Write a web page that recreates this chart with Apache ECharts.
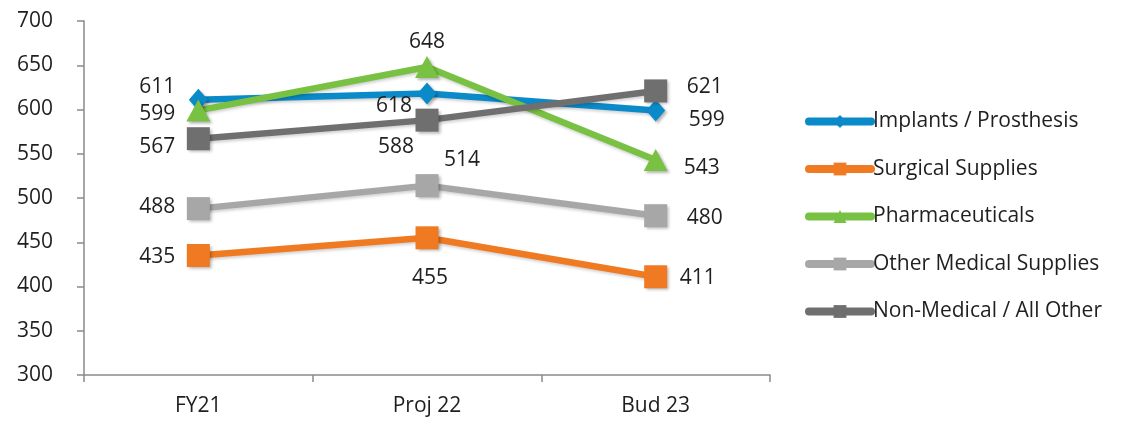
<!DOCTYPE html>
<html>
<head>
<meta charset="utf-8">
<script src="https://cdn.jsdelivr.net/npm/echarts@6/dist/echarts.min.js"></script>
<style>
  html, body { margin: 0; padding: 0; background: #fff; }
  #chart { width: 1139px; height: 422px; }
</style>
</head>
<body>
<div id="chart"></div>
<script>
// Supply spend by category, FY21 actual vs projected and budget
const categories = ['FY21', 'Proj 22', 'Bud 23'];
const seriesNames = [
  'Implants / Prosthesis',
  'Surgical Supplies',
  'Pharmaceuticals',
  'Other Medical Supplies',
  'Non-Medical / All Other'
];
const implants = [611, 618, 599];
const surgical = [435, 455, 411];
const pharma = [599, 648, 543];
const otherMedical = [488, 514, 480];
const nonMedical = [567, 588, 621];
const yTicks = { min: 300, max: 700, interval: 50 };

// Presentation: colours, markers and per-point label offsets
const colors = ['#0A8AC8', '#F07A21', '#79C143', '#A7A7A7', '#6F6F6F'];
const symbols = ['diamond', 'rect', 'triangle', 'rect', 'rect'];
const symbolSizes = [[19, 22], 23, [24, 22], 23, 23];
const labelOffsets = [
  [[-41, -13], [-33, 12], [51, 10]],
  [[-41, 1], [3, 40], [42, 1]],
  [[-41, 4], [0, -25], [46, 8]],
  [[-41, -2], [35, -26], [49, 2]],
  [[-41, 8], [-31, 27], [49, -4]]
];

const values = [implants, surgical, pharma, otherMedical, nonMedical];
const FONT = '"Open Sans", sans-serif';
const FS = 21;

const series = values.map((vals, i) => ({
  name: seriesNames[i],
  type: 'line',
  symbol: symbols[i],
  symbolSize: symbolSizes[i],
  lineStyle: {
    width: 6.5,
    color: colors[i],
    shadowColor: 'rgba(0,0,0,0.18)',
    shadowBlur: 3,
    shadowOffsetX: 1,
    shadowOffsetY: 2
  },
  itemStyle: {
    color: colors[i],
    shadowColor: 'rgba(0,0,0,0.3)',
    shadowBlur: 3,
    shadowOffsetX: 2,
    shadowOffsetY: 2
  },
  emphasis: { disabled: true },
  data: vals.map((v, j) => ({
    value: v,
    label: {
      show: true,
      position: 'inside',
      offset: labelOffsets[i][j],
      align: 'center',
      verticalAlign: 'middle',
      color: '#1f1f1f',
      fontSize: FS,
      fontFamily: FONT
    }
  }))
}));

const chart = echarts.init(document.getElementById('chart'), null, { renderer: 'canvas' });
chart.setOption({
  animation: false,
  backgroundColor: '#ffffff',
  color: colors,
  grid: { left: 84, right: 369, top: 21, bottom: 47, containLabel: false },
  xAxis: {
    type: 'category',
    data: categories,
    boundaryGap: true,
    axisLine: { lineStyle: { color: '#8a8a8a', width: 1.5 } },
    axisTick: { show: true, length: 7, lineStyle: { color: '#8a8a8a', width: 1.5 } },
    axisLabel: { color: '#1f1f1f', fontSize: FS, fontFamily: FONT, margin: 21 },
    splitLine: { show: false }
  },
  yAxis: {
    type: 'value',
    min: yTicks.min,
    max: yTicks.max,
    interval: yTicks.interval,
    axisLine: { show: true, lineStyle: { color: '#8a8a8a', width: 1.5 } },
    axisTick: { show: true, length: 7, lineStyle: { color: '#8a8a8a', width: 1.5 } },
    axisLabel: { color: '#1f1f1f', fontSize: FS, fontFamily: FONT, margin: 31 },
    splitLine: { show: false }
  },
  legend: {
    orient: 'vertical',
    left: 800,
    top: 106,
    itemWidth: 62,
    itemHeight: 16,
    itemGap: 26.5,
    lineStyle: { width: 8, cap: 'round' },
    itemStyle: { shadowBlur: 0, shadowOffsetX: 0, shadowOffsetY: 0 },
    textStyle: { color: '#1f1f1f', fontSize: FS, fontFamily: FONT, padding: [0, 0, 0, -3] },
    data: seriesNames
  },
  series: series
});
</script>
</body>
</html>
